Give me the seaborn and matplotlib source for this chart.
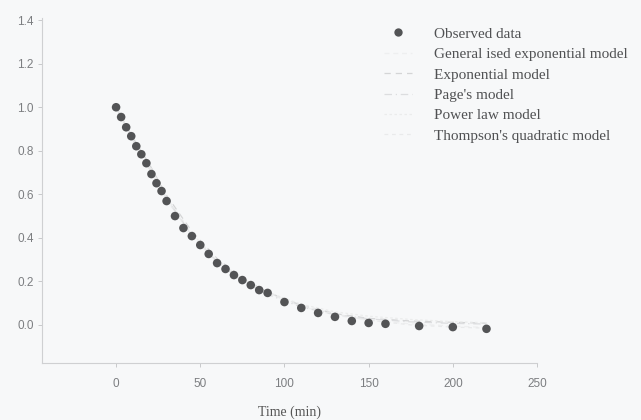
import matplotlib
matplotlib.use("Agg")
import matplotlib.pyplot as plt
from matplotlib.lines import Line2D
import numpy as np
import pandas as pd
import seaborn as sns

# Observed drying data
time_min = [0, 3, 6, 9, 12, 15, 18, 21, 24, 27, 30, 35, 40, 45, 50, 55, 60,
            65, 70, 75, 80, 85, 90, 100, 110, 120, 130, 140, 150, 160, 180,
            200, 220]
moisture_ratio = [1.0, 0.955, 0.908, 0.867, 0.821, 0.784, 0.743, 0.693, 0.651,
                  0.615, 0.569, 0.50, 0.445, 0.408, 0.367, 0.326, 0.284, 0.257,
                  0.229, 0.206, 0.183, 0.16, 0.147, 0.105, 0.078, 0.055, 0.037,
                  0.018, 0.009, 0.005, -0.005, -0.01, -0.018]

# Fitted model curves
model_time = [0, 10, 20, 30, 45, 60, 75, 90, 110, 130, 150, 175, 200, 220]
generalised_exp = [1.0, 0.855, 0.72, 0.575, 0.41, 0.29, 0.205, 0.145, 0.085,
                   0.045, 0.02, 0.005, -0.005, -0.012]
exponential = [1.0, 0.86, 0.735, 0.595, 0.43, 0.305, 0.215, 0.15, 0.09, 0.052,
               0.03, 0.018, 0.012, 0.008]
page = [1.0, 0.85, 0.715, 0.58, 0.415, 0.29, 0.2, 0.14, 0.082, 0.048, 0.028,
        0.014, 0.007, 0.004]
power_law = [1.0, 0.86, 0.73, 0.585, 0.42, 0.3, 0.21, 0.15, 0.095, 0.06, 0.04,
             0.025, 0.015, 0.01]
thompson = [1.0, 0.85, 0.72, 0.578, 0.41, 0.288, 0.205, 0.148, 0.09, 0.05,
            0.022, 0.0, -0.01, -0.015]

labels = ["Observed data", "General ised exponential model", "Exponential model",
          "Page's model", "Power law model", "Thompson's quadratic model"]

x_ticks = [0, 50, 100, 150, 200, 250]
y_ticks = [0.0, 0.2, 0.4, 0.6, 0.8, 1.0, 1.2, 1.4]

bg = "#f7f8f9"
sns.set_theme(style="ticks")
plt.rcParams["font.family"] = ["Liberation Sans", "DejaVu Sans"]

fig = plt.figure(figsize=(6.41, 4.20), dpi=100, facecolor=bg)
ax = fig.add_axes([42 / 641, 1 - 363 / 420, (537 - 42) / 641, (363 - 18) / 420])
ax.set_facecolor(bg)

models = [
    (generalised_exp, "#eeeff0", (0, (4, 3))),
    (exponential, "#d4d5d6", (0, (5, 4))),
    (page, "#dcdddf", (0, (6, 3, 1, 3))),
    (power_law, "#ebecec", (0, (2, 2))),
    (thompson, "#e9eaeb", (0, (3, 3))),
]
for vals, col, ls in models:
    df = pd.DataFrame({"t": model_time, "mr": vals})
    sns.lineplot(data=df, x="t", y="mr", ax=ax, color=col, linewidth=0.9,
                 linestyle=ls, zorder=1, legend=False)

obs = pd.DataFrame({"t": time_min, "mr": moisture_ratio})
sns.scatterplot(data=obs, x="t", y="mr", ax=ax, color="#535456", s=38,
                edgecolor="none", zorder=3, legend=False)

ax.set_xlim(-44, 250)
ax.set_ylim(-0.175, 1.41)
ax.set_xticks(x_ticks)
ax.set_yticks(y_ticks)
ax.set_xticklabels([str(v) for v in x_ticks])
ax.set_yticklabels([f"{v:.1f}" for v in y_ticks])
ax.set_ylabel("")
ax.set_xlabel("Time (min)", family=["Liberation Serif", "DejaVu Serif"],
              fontsize=10, color="#555555", labelpad=11)

for side in ["top", "right"]:
    ax.spines[side].set_visible(False)
for side in ["left", "bottom"]:
    ax.spines[side].set_color("#cfd0d2")
    ax.spines[side].set_linewidth(0.8)
ax.tick_params(axis="both", colors="#c8c9cb", labelcolor="#7c7e81",
               labelsize=8.5, length=3, width=0.7)
ax.tick_params(axis="x", pad=8)
ax.tick_params(axis="y", pad=3)

handles = [Line2D([], [], marker="o", linestyle="none", color="#535456",
                  markersize=6, markeredgewidth=0)]
for _, col, ls in models:
    handles.append(Line2D([], [], color=col, linewidth=0.9, linestyle=ls))
leg = fig.legend(handles, labels, loc="upper left",
                 bbox_to_anchor=(384 / 641, 1 - 27 / 420), frameon=False,
                 borderaxespad=0, borderpad=0, handlelength=1.8,
                 handletextpad=1.5, labelspacing=0.44,
                 prop={"family": ["Liberation Serif", "DejaVu Serif"], "size": 11})
for t in leg.get_texts():
    t.set_color("#505153")

fig.savefig("out.png", dpi=100, facecolor=bg)
